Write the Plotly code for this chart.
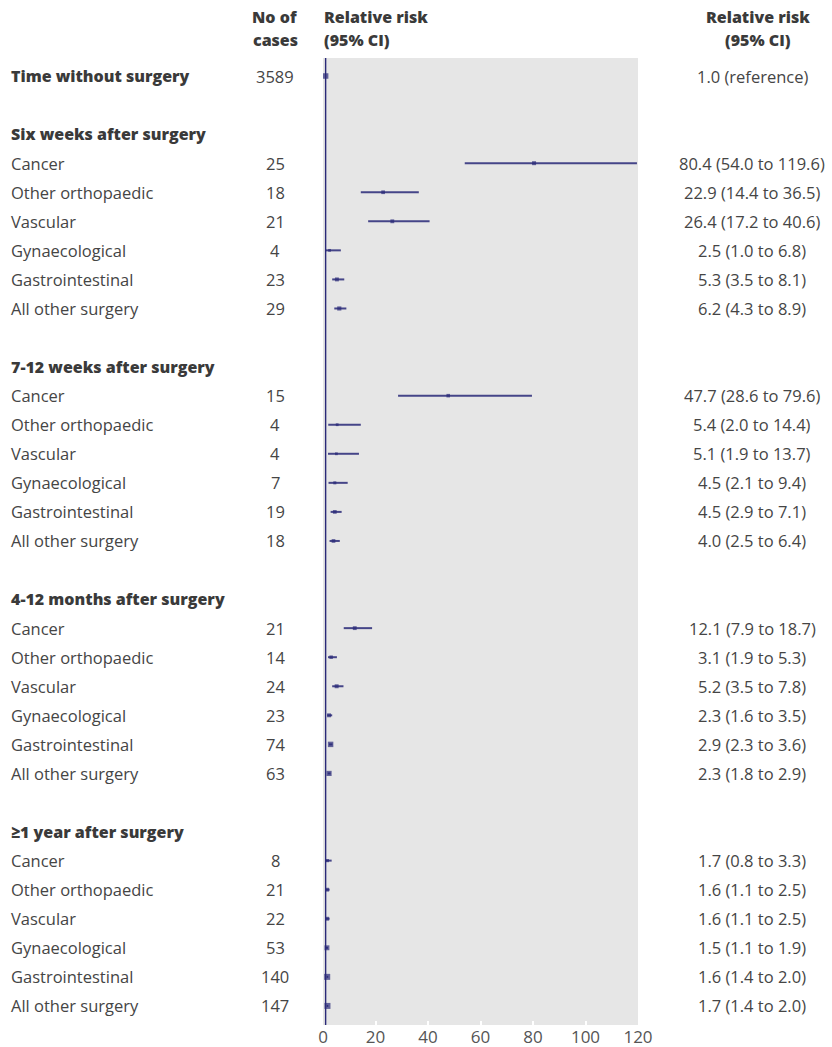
import plotly.graph_objects as go

# Forest plot: relative risk of outcome by time since surgery and type of surgery
reference_label = "Time without surgery"
reference_cases = 3589
reference_text = "1.0 (reference)"
reference_rr = 1.0

periods = [
    "Six weeks after surgery",
    "7-12 weeks after surgery",
    "4-12 months after surgery",
    "≥1 year after surgery",
]
surgery_types = [
    "Cancer",
    "Other orthopaedic",
    "Vascular",
    "Gynaecological",
    "Gastrointestinal",
    "All other surgery",
]

cases = [
    [25, 18, 21, 4, 23, 29],
    [15, 4, 4, 7, 19, 18],
    [21, 14, 24, 23, 74, 63],
    [8, 21, 22, 53, 140, 147],
]
rr = [
    [80.4, 22.9, 26.4, 2.5, 5.3, 6.2],
    [47.7, 5.4, 5.1, 4.5, 4.5, 4.0],
    [12.1, 3.1, 5.2, 2.3, 2.9, 2.3],
    [1.7, 1.6, 1.6, 1.5, 1.6, 1.7],
]
ci_low = [
    [54.0, 14.4, 17.2, 1.0, 3.5, 4.3],
    [28.6, 2.0, 1.9, 2.1, 2.9, 2.5],
    [7.9, 1.9, 3.5, 1.6, 2.3, 1.8],
    [0.8, 1.1, 1.1, 1.1, 1.4, 1.4],
]
ci_high = [
    [119.6, 36.5, 40.6, 6.8, 8.1, 8.9],
    [79.6, 14.4, 13.7, 9.4, 7.1, 6.4],
    [18.7, 5.3, 7.8, 3.5, 3.6, 2.9],
    [3.3, 2.5, 2.5, 1.9, 2.0, 2.0],
]

x_ticks = [0, 20, 40, 60, 80, 100, 120]

# ---- layout geometry ----
W, H = 832, 1047
L, R, T, B = 323, 194, 58, 22
PW = W - L - R
PH = H - T - B
ROW_PX = 29.06
ROW0_PX = 76  # pixel centre of first row

NAVY = "#2a2978"
TEXT = "#454545"
BOLD_TEXT = "#3a3a3a"
FONT = "Open Sans"
BODY_SIZE = 16.5
BOLD_SIZE = 16


def xp(px):
    return (px - L) / PW


def yp(px):
    return 1 - (px - T) / PH


def row_px(r):
    return ROW0_PX + r * ROW_PX


def box_size(n):
    return min(2.0 + 0.4 * n ** 0.5, 6.0)


# ---- assemble rows ----
rows = []  # (row index, label, bold, cases, rr, lo, hi, text)
rows.append((0, reference_label, True, reference_cases, reference_rr, None, None, reference_text))
for g, period in enumerate(periods):
    hr = 2 + 8 * g
    rows.append((hr, period, True, None, None, None, None, None))
    for i, st in enumerate(surgery_types):
        r = hr + 1 + i
        v, lo, hi = rr[g][i], ci_low[g][i], ci_high[g][i]
        txt = f"{v:.1f} ({lo:.1f} to {hi:.1f})"
        rows.append((r, st, False, cases[g][i], v, lo, hi, txt))

fig = go.Figure()

# confidence interval lines
for r, label, bold, n, v, lo, hi, txt in rows:
    if lo is not None:
        fig.add_trace(go.Scatter(
            x=[lo, min(hi, 120)], y=[r, r], mode="lines",
            line=dict(color=NAVY, width=2), opacity=0.85,
            hoverinfo="skip", showlegend=False, cliponaxis=True,
        ))

# reference line at relative risk 1
fig.add_shape(type="line", xref="x", yref="paper", x0=1, x1=1, y0=0, y1=1,
              line=dict(color=NAVY, width=1.4), layer="above")

# point estimates
pts = [row for row in rows if row[4] is not None]
fig.add_trace(go.Scatter(
    x=[p[4] for p in pts], y=[p[0] for p in pts], mode="markers",
    marker=dict(symbol="square", color=NAVY,
                size=[box_size(p[3]) if p[5] is not None else 5.5 for p in pts],
                line=dict(width=0)),
    hoverinfo="skip", showlegend=False,
))

ann = []


def add_text(x_px, y_px, text, anchor, bold=False):
    ann.append(dict(
        xref="paper", yref="paper", x=xp(x_px), y=yp(y_px), text=text,
        showarrow=False, xanchor=anchor, yanchor="middle",
        font=dict(family=FONT, size=BOLD_SIZE if bold else BODY_SIZE,
                  color=BOLD_TEXT if bold else TEXT,
                  weight=800 if bold else 400),
    ))


# column headers
add_text(275, 17, "No of", "center", bold=True)
add_text(275, 40, "cases", "center", bold=True)
add_text(322, 17, "Relative risk", "left", bold=True)
add_text(322, 40, "(95% CI)", "left", bold=True)
add_text(758, 17, "Relative risk", "center", bold=True)
add_text(758, 40, "(95% CI)", "center", bold=True)

for r, label, bold, n, v, lo, hi, txt in rows:
    y = row_px(r)
    add_text(9, y, label, "left", bold=bold)
    if n is not None:
        add_text(275, y, str(n), "center")
    if txt is not None:
        add_text(752, y, txt, "center")

r_top = -(ROW0_PX - T) / ROW_PX
r_bot = r_top + PH / ROW_PX

fig.update_layout(
    width=W, height=H,
    margin=dict(l=L, r=R, t=T, b=B, pad=0),
    paper_bgcolor="white", plot_bgcolor="#e6e6e6",
    annotations=ann,
    xaxis=dict(range=[0, 120], tickvals=x_ticks, ticktext=[str(t) for t in x_ticks],
               showgrid=False, zeroline=False, showline=False,
               ticks="inside", ticklen=4, tickwidth=1.5, tickcolor="white",
               tickfont=dict(family=FONT, size=17, color="#555555"),
               automargin=False, fixedrange=True),
    yaxis=dict(range=[r_bot, r_top], showgrid=False, zeroline=False, showline=False,
               showticklabels=False, ticks="", automargin=False, fixedrange=True),
)

fig.write_html("out.html")
